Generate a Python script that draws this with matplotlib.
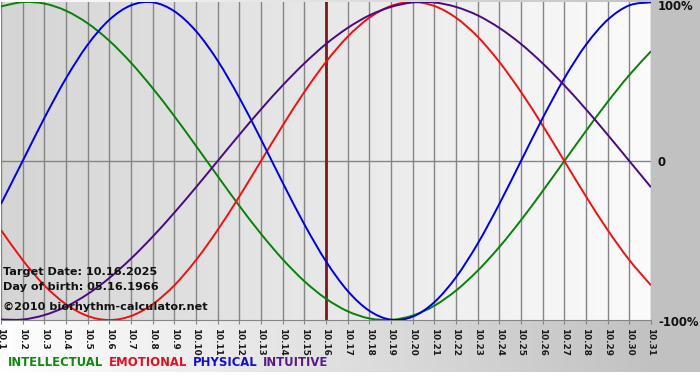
import numpy as np
import matplotlib
matplotlib.use("Agg")
import matplotlib.pyplot as plt
from matplotlib.path import Path
from matplotlib.patches import PathPatch

days = list(range(1, 32))
tick_labels = [f"10.{d}" for d in days]

intellectual = [0.972, 0.999, 0.990, 0.945, 0.866, 0.756, 0.618, 0.458, 0.282, 0.095,
                -0.095, -0.282, -0.458, -0.618, -0.756, -0.866, -0.945, -0.990, -0.999, -0.972,
                -0.910, -0.815, -0.690, -0.541, -0.372, -0.189, 0.000, 0.189, 0.372, 0.541, 0.690]
emotional = [-0.434, -0.623, -0.782, -0.901, -0.975, -1.000, -0.975, -0.901, -0.782, -0.623,
             -0.434, -0.223, 0.000, 0.223, 0.434, 0.623, 0.782, 0.901, 0.975, 1.000,
             0.975, 0.901, 0.782, 0.623, 0.434, 0.223, 0.000, -0.223, -0.434, -0.623, -0.782]
physical = [-0.270, 0.000, 0.270, 0.520, 0.731, 0.888, 0.979, 0.998, 0.942, 0.817,
            0.631, 0.398, 0.136, -0.136, -0.398, -0.631, -0.817, -0.942, -0.998, -0.979,
            -0.888, -0.731, -0.520, -0.270, 0.000, 0.270, 0.520, 0.731, 0.888, 0.979, 0.998]
intuitive = [-0.997, -0.997, -0.969, -0.916, -0.837, -0.736, -0.614, -0.476, -0.325, -0.165,
             0.000, 0.165, 0.325, 0.476, 0.614, 0.736, 0.837, 0.916, 0.969, 0.997,
             0.997, 0.969, 0.916, 0.837, 0.736, 0.614, 0.476, 0.325, 0.165, 0.000, -0.165]

series_names = ["INTELLECTUAL", "EMOTIONAL", "PHYSICAL", "INTUITIVE"]
line_colors = ["#0a7f0a", "#ee1111", "#0000dd", "#4a0a80"]
label_colors = ["#118811", "#dd1122", "#1111cc", "#5a1a8b"]
target_day = 16
info_lines = ["Target Date: 10.16.2025", "Day of birth: 05.16.1966", "\u00a92010 biorhythm-calculator.net"]
y_labels = ["100%", "0", "-100%"]
y_values = [1, 0, -1]

W, H = 700, 380
fig = plt.figure(figsize=(W / 100, H / 100), dpi=100)
fig.patch.set_facecolor("white")

# figure background gradient
bg = fig.add_axes([0, 0, 1, 1], zorder=-10)
bg.set_axis_off()
xs = np.linspace(0, 1, 700)
g = np.clip(xs / (651 / 700), 0, 1)
shade = 1.0 - g * (1.0 - 0.76)
img = np.tile(shade, (380, 1))
img[372:, :] = 1.0
bg.imshow(np.dstack([img, img, img]), aspect="auto", extent=[0, 1, 0, 1], origin="upper")
bg.set_xlim(0, 1)
bg.set_ylim(0, 1)

left_px, right_px, top_px, bot_px = 1, 651, 2, 320
ax = fig.add_axes([left_px / W, 1 - bot_px / H, (right_px - left_px) / W, (bot_px - top_px) / H])
ax.set_xlim(0, len(days) - 1)
ax.set_ylim(-1, 1)

# plot area gradient
grad = np.linspace(0.835, 0.985, 300)
ax.imshow(np.dstack([np.tile(grad, (10, 1))] * 3), aspect="auto",
          extent=[0, len(days) - 1, -1, 1], zorder=0)

x = np.arange(len(days))
for xi in x:
    ax.axvline(xi, color="#858585", lw=1.0, zorder=1)
ax.axhline(0, color="#858585", lw=1.0, zorder=1)
ax.axvline(days.index(target_day), color="#7a1a1a", lw=2.0, zorder=2)


def smooth_path(xv, yv):
    pts = np.column_stack([xv, yv]).astype(float)
    n = len(pts)
    verts = [pts[0]]
    codes = [Path.MOVETO]
    for i in range(n - 1):
        p0 = pts[i - 1] if i > 0 else pts[i]
        p1 = pts[i]
        p2 = pts[i + 1]
        p3 = pts[i + 2] if i + 2 < n else pts[i + 1]
        c1 = p1 + (p2 - p0) / 6.0
        c2 = p2 - (p3 - p1) / 6.0
        verts += [c1, c2, p2]
        codes += [Path.CURVE4] * 3
    return Path(verts, codes)


for vals, c in zip([intellectual, emotional, physical, intuitive], line_colors):
    ax.add_patch(PathPatch(smooth_path(x, vals), fill=False, edgecolor=c, lw=1.4,
                           zorder=3, capstyle="butt"))

for s in ["top", "left", "right"]:
    ax.spines[s].set_visible(False)
ax.spines["bottom"].set_color("#858585")
ax.set_yticks([])
ax.set_xticks(x)
ax.set_xticklabels(tick_labels, rotation=270, fontsize=6.4, fontweight="bold",
                   family="DejaVu Sans", color="#1a1a1a")
ax.tick_params(axis="x", length=3, color="#858585", pad=3)

for lab, ypx in zip(y_labels, [7, 162, 322]):
    fig.text(658 / W, 1 - ypx / H, lab, fontsize=8.4, fontweight="bold", va="center",
             ha="left", color="#111111")

for i, t in enumerate(info_lines):
    yy = [272, 287, 307][i]
    fig.text(3 / W, 1 - yy / H, t, fontsize=8.1, fontweight="bold", va="center", ha="left",
             color="#111111")

prev = fig.text(8 / W, 1 - 362 / H, series_names[0], fontsize=8.4, fontweight="bold",
                color=label_colors[0], va="center", ha="left")
for name, c in zip(series_names[1:], label_colors[1:]):
    prev = ax.annotate(name, xy=(1, 0.5), xycoords=prev, xytext=(4, 0),
                       textcoords="offset points", fontsize=8.4, fontweight="bold",
                       color=c, va="center", ha="left", annotation_clip=False)

fig.savefig("out.png", dpi=100)
